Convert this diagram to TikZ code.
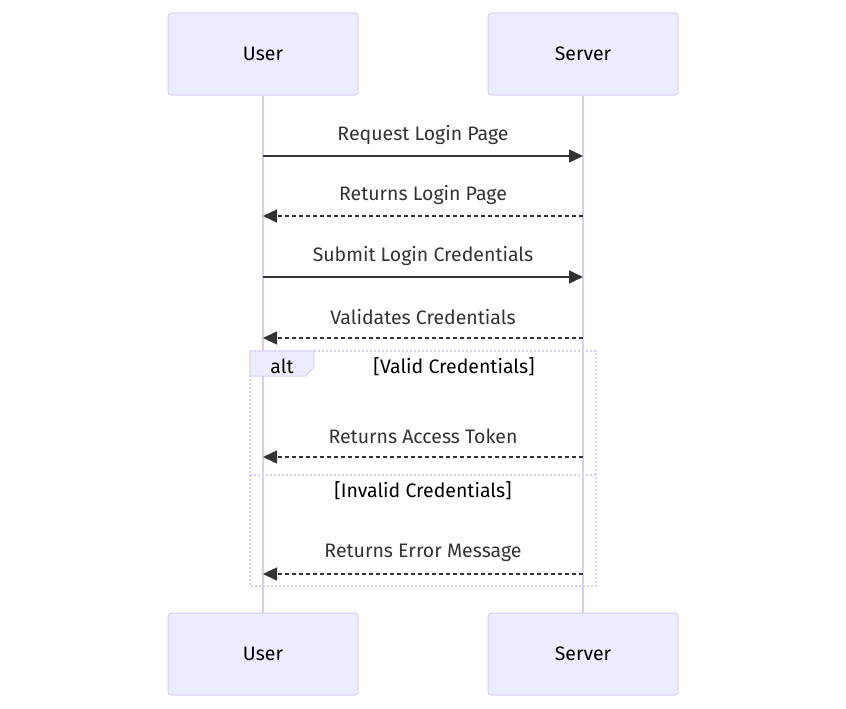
\documentclass[tikz,border=0pt]{standalone}
\usepackage{fontspec}
\setmainfont{Fira Sans}
\usepackage{xcolor}
\usetikzlibrary{
    arrows.meta,
    calc,
    positioning
}
\definecolor{actfill}{HTML}{ECECFF}
\definecolor{actline}{HTML}{DACEF3}
\definecolor{msgcol}{HTML}{333333}
\newcommand{\msgfont}{\fontsize{19.5}{22}\selectfont}
\tikzset{actor/.style={draw=actline, fill=actfill, line width=1pt, rounded corners=3pt, minimum width=190pt, minimum height=82pt, font=\msgfont, text=black}}
\tikzset{lifeline/.style={draw=actline, line width=2pt}}
\tikzset{msg/.style={draw=msgcol, line width=1.5pt, -{Triangle[length=14pt, width=13pt]}}}
\tikzset{reply/.style={msg, dash pattern=on 4pt off 3pt}}
\tikzset{msglabel/.style={midway, yshift=21pt, inner sep=0pt, text=msgcol, font=\msgfont}}
\tikzset{frameline/.style={draw=actline, line width=2pt, dash pattern=on 2pt off 2pt}}

\begin{document}
\begin{tikzpicture}[x=1pt, y=-1pt]
                                \useasboundingbox (0, 0) rectangle (846, 709);
                                \node[actor] (userTop) at (263, 54) {User};
                                \node[actor] (serverTop) at (583, 54) {Server};
                                \node[actor] (userBot) at (263, 654) {User};
                                \node[actor] (serverBot) at (583, 654) {Server};
                                \draw[lifeline] (userTop.south) -- (userBot.north);
                                \draw[lifeline] (serverTop.south) -- (serverBot.north);
                                \coordinate (u1) at (263, 156);
                                \coordinate (s1) at (583, 156);
                                \coordinate (u2) at (263, 216);
                                \coordinate (s2) at (583, 216);
                                \coordinate (u3) at (263, 277);
                                \coordinate (s3) at (583, 277);
                                \coordinate (u4) at (263, 338);
                                \coordinate (s4) at (583, 338);
                                \coordinate (u5) at (263, 457);
                                \coordinate (s5) at (583, 457);
                                \coordinate (u6) at (263, 574);
                                \coordinate (s6) at (583, 574);
                                \draw[msg] (u1) -- node[msglabel] (m1) {Request Login Page} (s1);
                                \draw[reply] (s2) -- node[msglabel] (m2) {Returns Login Page} (u2);
                                \draw[msg] (u3) -- node[msglabel] (m3) {Submit Login Credentials} (s3);
                                \draw[reply] (s4) -- node[msglabel] (m4) {Validates Credentials} (u4);
                                \coordinate (altNW) at (250, 351);
                                \coordinate (altSE) at (596, 586);
                                \draw[frameline] (altNW) rectangle (altSE);
                                \draw[frameline] (250, 475) -- (596, 475);
                                \draw[draw=actline, fill=actfill, line width=1pt] (altNW) -- (314, 351) -- (314, 367) -- (306, 376) -- (250, 376) -- cycle;
                                \node[font=\msgfont, text=black] (altTag) at (282, 366) {alt};
                                \node[font=\msgfont, text=black] (guardOk) at (454, 367) {[Valid Credentials]};
                                \draw[reply] (s5) -- node[msglabel] (m5) {Returns Access Token} (u5);
                                \node[font=\msgfont, text=black] (guardBad) at (423, 491) {[Invalid Credentials]};
                                \draw[reply] (s6) -- node[msglabel] (m6) {Returns Error Message} (u6);
                            \end{tikzpicture}
\end{document}
